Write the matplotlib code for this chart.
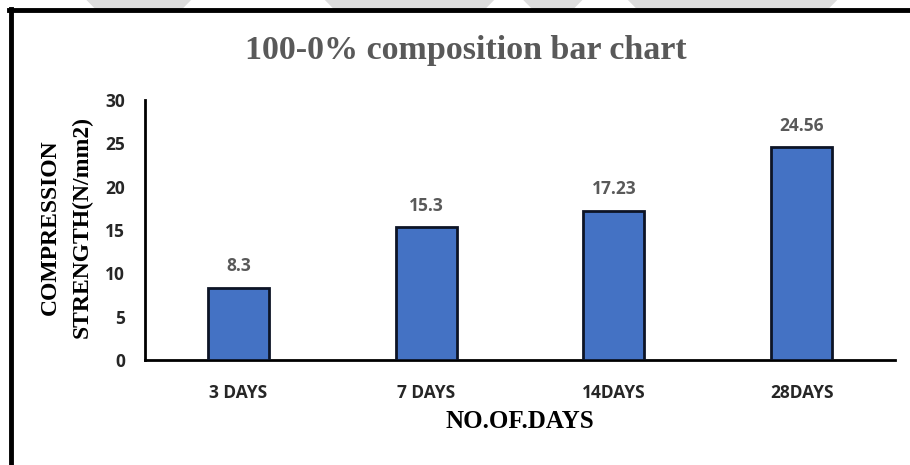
import matplotlib
matplotlib.use('Agg')
import matplotlib.pyplot as plt
from matplotlib.lines import Line2D
from matplotlib.patches import Polygon

# compressive strength of the 100-0% mix at each curing age
days = ['3 DAYS', '7 DAYS', '14DAYS', '28DAYS']
strength = [8.3, 15.3, 17.23, 24.56]
yticks = [0, 5, 10, 15, 20, 25, 30]

serif = ['Liberation Serif', 'DejaVu Serif']
sans = ['Open Sans', 'DejaVu Sans']

fig = plt.figure(figsize=(9.1, 4.65), dpi=100)
fig.patch.set_facecolor('white')
ax = fig.add_axes([0.159, 0.226, 0.825, 0.559])

x = range(len(days))
bars = ax.bar(x, strength, width=0.325, color='#4472C4',
              edgecolor='#0d1426', linewidth=2.0, zorder=3)

for b, v in zip(bars, strength):
    ax.annotate(f'{v:g}', (b.get_x() + b.get_width() / 2, v),
                xytext=(0, 9), textcoords='offset points',
                ha='center', va='bottom', fontsize=12.5, fontweight='bold',
                color='#595959', family=sans)

ax.set_xlim(-0.5, len(days) - 0.5)
ax.set_ylim(0, 30)
ax.set_yticks(yticks)
ax.set_xticks(list(x))
ax.set_xticklabels(days)
for lab in ax.get_xticklabels() + ax.get_yticklabels():
    lab.set_family(sans)
    lab.set_fontweight('bold')
    lab.set_fontsize(12.5)
    lab.set_color('#262626')
ax.tick_params(axis='x', length=0, pad=17)
ax.tick_params(axis='y', length=0, pad=14)

for s in ['top', 'right']:
    ax.spines[s].set_visible(False)
ax.spines['left'].set_linewidth(2.0)
ax.spines['bottom'].set_linewidth(2.0)

ax.set_xlabel('NO.OF.DAYS', family=serif, fontweight='bold',
              fontsize=18, labelpad=6)
fig.text(0.055, 0.512, 'COMPRESSION', rotation=90, ha='center', va='center',
         family=serif, fontweight='bold', fontsize=17)
fig.text(0.09, 0.512, 'STRENGTH(N/mm2)', rotation=90, ha='center', va='center',
         family=serif, fontweight='bold', fontsize=17)

fig.text(0.512, 0.892, '100-0% composition bar chart', ha='center',
         va='center', family=serif, fontweight='bold', fontsize=24.5,
         color='#595959')

# faint grey shapes showing above the frame
for xs in [(0.095, 0.21), (0.357, 0.543), (0.575, 0.64), (0.69, 0.92)]:
    fig.add_artist(Polygon([(xs[0], 1.0), (xs[1], 1.0),
                            (xs[1] - 0.01, 0.98), (xs[0] + 0.01, 0.98)],
                           closed=True, facecolor='#dddddd',
                           edgecolor='none', transform=fig.transFigure))

# frame lines on the left and top edges
fig.add_artist(Line2D([0.012, 0.012], [0.005, 0.98], color='black',
                      lw=3.5, transform=fig.transFigure))
fig.add_artist(Line2D([0.01, 1.0], [0.978, 0.978], color='black',
                      lw=3.5, transform=fig.transFigure))

fig.savefig('out.png', dpi=100, facecolor='white')
